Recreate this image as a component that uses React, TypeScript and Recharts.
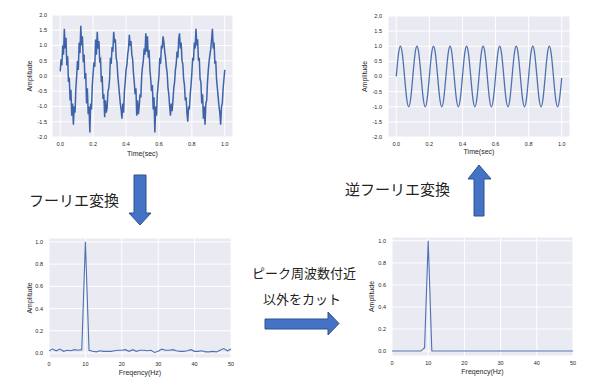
import { LineChart, Line, XAxis, YAxis, CartesianGrid } from "recharts";

// noisy input signal, one row per 0.1 s (sample step 0.005 s)
const noisySignal = [
  0.15, 0.55, 0.35, 1.0, 0.7, 1.55, 0.9, 1.25, 0.35, 0.65, -0.2, -0.05, -0.8, -0.45, -1.3, -0.9, -1.6, -1.0, -1.2, -0.4,
  0.0, 0.5, 0.2, 1.1, 0.75, 1.65, 1.0, 1.3, 0.45, 0.7, -0.1, 0.1, -0.9, -0.4, -1.25, -1.0, -1.85, -0.9, -1.1, -0.3,
  0.1, 0.45, 0.3, 1.2, 0.7, 1.45, 0.9, 1.15, 0.5, 0.55, -0.2, 0.0, -0.75, -0.6, -1.35, -0.8, -1.2, -1.05, -0.5, -0.4,
  -0.1, 0.6, 0.4, 0.95, 0.8, 1.45, 1.1, 1.2, 0.6, 0.45, 0.0, -0.3, -0.6, -0.9, -1.1, -1.4, -0.9, -1.2, -0.5, -0.2,
  0.2, 0.35, 0.7, 0.9, 1.35, 1.0, 1.15, 0.7, 0.55, 0.1, -0.2, -0.6, -0.4, -1.3, -0.8, -1.25, -1.0, -0.6, -0.7, 0.0,
  0.3, 0.5, 0.9, 0.7, 1.4, 0.8, 1.3, 0.6, 0.85, 0.2, -0.1, -0.5, -0.3, -1.1, -0.7, -1.85, -1.0, -1.3, -0.6, -0.3,
  0.0, 0.6, 0.4, 1.0, 0.9, 1.3, 1.1, 0.8, 0.6, 0.3, 0.1, -0.4, -0.6, -1.0, -1.3, -0.9, -1.15, -0.8, -0.4, -0.2,
  0.2, 0.4, 0.8, 0.6, 1.2, 1.4, 0.9, 1.1, 0.5, 0.4, -0.1, -0.3, -0.8, -0.7, -1.2, -1.5, -1.0, -1.1, -0.6, -0.3,
  0.1, 0.6, 0.5, 1.1, 0.9, 1.55, 1.0, 1.2, 0.5, 0.6, -0.1, -0.2, -0.9, -0.6, -1.4, -1.0, -1.6, -0.9, -0.8, -0.2,
  0.2, 0.5, 0.7, 0.9, 1.2, 1.55, 0.9, 1.1, 0.4, 0.5, -0.1, -0.4, -0.7, -1.0, -1.2, -1.6, -1.0, -0.9, -0.4, -0.1,
  0.2,
];

// reconstructed signal, sample step 0.0125 s
const cleanSignal = [
  0, 0.71, 1, 0.71, 0, -0.71, -1, -0.71,
  0, 0.71, 1, 0.71, 0, -0.71, -1, -0.71,
  0, 0.71, 1, 0.71, 0, -0.71, -1, -0.71,
  0, 0.71, 1, 0.71, 0, -0.71, -1, -0.71,
  0, 0.71, 1, 0.71, 0, -0.71, -1, -0.71,
  0, 0.71, 1, 0.71, 0, -0.71, -1, -0.71,
  0, 0.71, 1, 0.71, 0, -0.71, -1, -0.71,
  0, 0.71, 1, 0.71, 0, -0.71, -1, -0.71,
  0, 0.71, 1, 0.71, 0, -0.71, -1, -0.71,
  0, 0.71, 1, 0.71, 0, -0.71, -1, -0.71,
  -0.05,
];

// amplitude spectrum, 0..50 Hz
const spectrum = [
  0.02, 0.035, 0.02, 0.035, 0.015, 0.025, 0.02, 0.03, 0.025, 0.03,
  1.0, 0.025, 0.015, 0.01, 0.02, 0.015, 0.015, 0.015, 0.02, 0.025,
  0.025, 0.03, 0.015, 0.03, 0.015, 0.025, 0.025, 0.02, 0.025, 0.005,
  0.015, 0.035, 0.025, 0.025, 0.03, 0.02, 0.015, 0.015, 0.02, 0.03,
  0.015, 0.015, 0.02, 0.01, 0.01, 0.015, 0.01, 0.025, 0.04, 0.02,
  0.035,
];

const filteredSpectrum = [
  0, 0, 0, 0, 0, 0, 0, 0, 0, 0.03,
  1.0, 0, 0, 0, 0, 0, 0, 0, 0, 0,
  0, 0, 0, 0, 0, 0, 0, 0, 0, 0,
  0, 0, 0, 0, 0, 0, 0, 0, 0, 0,
  0, 0, 0, 0, 0, 0, 0, 0, 0, 0,
  0,
];

const timeTicks = [0, 0.2, 0.4, 0.6, 0.8, 1.0];
const signalTicks = [-2, -1.5, -1, -0.5, 0, 0.5, 1, 1.5, 2];
const freqTicks = [0, 10, 20, 30, 40, 50];
const ampTicks = [0, 0.2, 0.4, 0.6, 0.8, 1.0];

const noisyData = noisySignal.map((v, i) => ({ t: i * 0.005, v }));
const cleanData = cleanSignal.map((v, i) => ({ t: i * 0.0125, v }));
const specData = spectrum.map((v, i) => ({ f: i, v }));
const filtData = filteredSpectrum.map((v, i) => ({ f: i, v }));

const BG = "#EAEAF2";
const LINE = "#4C72B0";
const TXT = "#262626";
const tickStyle = { fontSize: 5.5, fill: TXT, fontFamily: "Liberation Sans, Arial, sans-serif" };
const labelStyle = { fontSize: 7, fill: TXT, fontFamily: "Liberation Sans, Arial, sans-serif" };

type PanelProps = {
  data: { [k: string]: number }[];
  xKey: string;
  left: number;
  top: number;
  width: number;
  height: number;
  margin: { top: number; right: number; bottom: number; left: number };
  yWidth: number;
  xHeight: number;
  xDomain: [number, number];
  yDomain: [number, number];
  xTicks: number[];
  yTicks: number[];
  xTitle: string;
  xTitleOffset: number;
  yTitleOffset: number;
  yTickMargin: number;
  xTickMargin: number;
  curve: "linear" | "natural";
  strokeWidth: number;
  color: string;
};

function Panel(p: PanelProps) {
  return (
    <div style={{ position: "absolute", left: p.left, top: p.top }}>
      <LineChart width={p.width} height={p.height} data={p.data} margin={p.margin}>
        <CartesianGrid fill={BG} stroke="#fff" strokeWidth={1} />
        <XAxis
          dataKey={p.xKey}
          type="number"
          domain={p.xDomain}
          ticks={p.xTicks}
          interval={0}
          allowDataOverflow
          height={p.xHeight}
          axisLine={false}
          tickLine={false}
          tickSize={0}
          tickMargin={p.xTickMargin}
          tick={tickStyle}
          tickFormatter={(v: number) => (p.xKey === "t" ? v.toFixed(1) : String(v))}
          label={{ value: p.xTitle, position: "insideBottom", offset: p.xTitleOffset, style: labelStyle }}
        />
        <YAxis
          type="number"
          domain={p.yDomain}
          ticks={p.yTicks}
          interval={0}
          allowDataOverflow
          width={p.yWidth}
          axisLine={false}
          tickLine={false}
          tickSize={0}
          tickMargin={p.yTickMargin}
          tick={tickStyle}
          tickFormatter={(v: number) => v.toFixed(1)}
          label={{
            value: "Amplitude",
            angle: -90,
            position: "insideLeft",
            offset: p.yTitleOffset,
            style: { ...labelStyle, textAnchor: "middle" },
          }}
        />
        <Line
          type={p.curve}
          dataKey="v"
          stroke={p.color}
          strokeWidth={p.strokeWidth}
          dot={false}
          isAnimationActive={false}
        />
      </LineChart>
    </div>
  );
}

const ARROW_FILL = "#4472C4";
const ARROW_EDGE = "#2F528F";
const jpFont = "'Noto Sans CJK JP', sans-serif";

export default function App() {
  return (
    <div
      style={{
        position: "absolute",
        left: 0,
        top: 0,
        width: 600,
        height: 387,
        background: "#fff",
        overflow: "hidden",
      }}
    >
      <Panel
        data={noisyData}
        xKey="t"
        left={0}
        top={0}
        width={240}
        height={165}
        margin={{ top: 15, right: 7, bottom: 0, left: 0 }}
        yWidth={52}
        xHeight={28}
        xDomain={[-0.05, 1.05]}
        yDomain={[-2, 2]}
        xTicks={timeTicks}
        yTicks={signalTicks}
        xTitle="Time(sec)"
        xTitleOffset={9.5}
        yTitleOffset={30}
        yTickMargin={5}
        xTickMargin={5}
        curve="linear"
        strokeWidth={1.5}
        color="#3D63A8"
      />
      <Panel
        data={cleanData}
        xKey="t"
        left={340}
        top={0}
        width={240}
        height={165}
        margin={{ top: 16, right: 10, bottom: 0, left: 0 }}
        yWidth={48}
        xHeight={28}
        xDomain={[-0.05, 1.05]}
        yDomain={[-2, 2]}
        xTicks={timeTicks}
        yTicks={signalTicks}
        xTitle="Time(sec)"
        xTitleOffset={11}
        yTitleOffset={25}
        yTickMargin={6}
        xTickMargin={5}
        curve="natural"
        strokeWidth={1.3}
        color={LINE}
      />
      <Panel
        data={specData}
        xKey="f"
        left={0}
        top={225}
        width={240}
        height={162}
        margin={{ top: 13, right: 9, bottom: 0, left: 0 }}
        yWidth={49}
        xHeight={29}
        xDomain={[0, 50]}
        yDomain={[-0.045, 1.035]}
        xTicks={freqTicks}
        yTicks={ampTicks}
        xTitle="Freqency(Hz)"
        xTitleOffset={12.5}
        yTitleOffset={30}
        yTickMargin={6}
        xTickMargin={4}
        curve="linear"
        strokeWidth={1.1}
        color={LINE}
      />
      <Panel
        data={filtData}
        xKey="f"
        left={340}
        top={225}
        width={260}
        height={162}
        margin={{ top: 12, right: 27, bottom: 0, left: 0 }}
        yWidth={52}
        xHeight={31}
        xDomain={[0, 50]}
        yDomain={[-0.045, 1.035]}
        xTicks={freqTicks}
        yTicks={ampTicks}
        xTitle="Freqency(Hz)"
        xTitleOffset={12.8}
        yTitleOffset={32}
        yTickMargin={6}
        xTickMargin={5}
        curve="linear"
        strokeWidth={1.1}
        color={LINE}
      />
      <svg
        width={600}
        height={387}
        style={{ position: "absolute", left: 0, top: 0, pointerEvents: "none" }}
      >
        <g fill={ARROW_FILL} stroke={ARROW_EDGE} strokeWidth={1}>
          <polygon points="134,175 146,175 146,213 151,213 140,225 129,213 134,213" />
          <polygon points="479,165 491,179 484,179 484,216 474,216 474,179 468,179" />
          <polygon points="265,319 328,319 328,312 339,323.5 328,335 328,329 265,329" />
        </g>
        <g fill="#222" fontFamily={jpFont} dominantBaseline="central">
          <text x={29} y={199} fontSize={15}>フーリエ変換</text>
          <text x={345} y={188} fontSize={15}>逆フーリエ変換</text>
          <text x={252} y={272} fontSize={13}>ピーク周波数付近</text>
          <text x={263} y={298} fontSize={13}>以外をカット</text>
        </g>
      </svg>
    </div>
  );
}
